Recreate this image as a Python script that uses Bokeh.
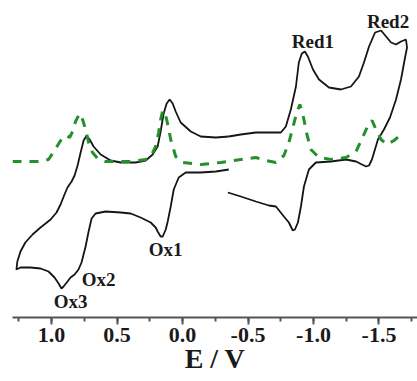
from bokeh.plotting import figure
from bokeh.models import Range1d, Label, SingleIntervalTicker, NumeralTickFormatter
from bokeh.embed import file_html
from bokeh.resources import INLINE

# Cyclic voltammogram, oxidation scan (E in V, current in a.u.)
cv_ox_E = [-0.353, -0.254, -0.139, -0.024, 0.029, 0.067, 0.090, 0.113, 0.128, 0.151, 0.167,
           0.190, 0.205, 0.243, 0.320, 0.396, 0.472, 0.587, 0.664, 0.694, 0.717, 0.740, 0.771,
           0.794, 0.824, 0.855, 0.878, 0.908, 0.924, 0.946, 0.977, 1.023, 1.084, 1.161, 1.237,
           1.268, 1.261, 1.237, 1.200, 1.145, 1.084, 1.007, 0.962, 0.931, 0.901, 0.878, 0.847,
           0.824, 0.801, 0.778, 0.755, 0.732, 0.709, 0.679, 0.625, 0.549, 0.472, 0.358, 0.281,
           0.228, 0.190, 0.167, 0.144, 0.121, 0.098, 0.075, 0.052, 0.014, -0.063, -0.139,
           -0.254, -0.353]
cv_ox_I = [148, 146, 145, 145, 140, 128, 111, 96, 88, 81, 81,
           86, 90, 95, 100, 104, 105, 106, 104, 99, 86, 71, 55,
           48, 43, 40, 36, 31, 29, 34, 40, 46, 49, 50, 50,
           48, 56, 66, 75, 83, 90, 98, 105, 113, 123, 130, 136,
           142, 152, 165, 177, 182, 178, 171, 163, 157, 155, 155, 157,
           163, 171, 186, 204, 214, 218, 214, 206, 195, 186, 181,
           180, 181]

# Cyclic voltammogram, reduction scan
cv_red_E = [-0.353, -0.445, -0.560, -0.674, -0.751, -0.789, -0.827, -0.866, -0.888, -0.911,
            -0.934, -0.957, -0.996, -1.042, -1.118, -1.209, -1.286, -1.347, -1.385, -1.424,
            -1.470, -1.516, -1.554, -1.592, -1.630, -1.668, -1.706, -1.714, -1.699, -1.668,
            -1.630, -1.584, -1.538, -1.492, -1.469, -1.446, -1.424, -1.401, -1.370, -1.325,
            -1.248, -1.133, -1.018, -0.965, -0.927, -0.904, -0.881, -0.858, -0.842, -0.812,
            -0.774, -0.713, -0.659, -0.560, -0.445, -0.346]
cv_red_I = [181, 183, 185, 185, 185, 191, 208, 231, 255, 264,
            266, 261, 248, 238, 230, 228, 231, 241, 255, 271,
            285, 287, 281, 275, 273, 276, 278, 270, 260, 238,
            218, 200, 188, 178, 168, 158, 152, 151, 153, 156,
            158, 156, 155, 148, 131, 111, 95, 88, 87, 95,
            101, 111, 112, 116, 121, 125]

# Differential pulse voltammogram (dashed green)
dpv_E = [1.298, 1.084, 1.023, 0.992, 0.954, 0.916, 0.885, 0.862, 0.839, 0.817, 0.786, 0.763,
         0.740, 0.717, 0.687, 0.648, 0.587, 0.396, 0.281, 0.243, 0.205, 0.182, 0.167, 0.151,
         0.136, 0.121, 0.090, 0.052, -0.002, -0.139, -0.292, -0.445, -0.560, -0.636, -0.713,
         -0.774, -0.812, -0.842, -0.873, -0.896, -0.919, -0.950, -0.980, -1.042, -1.133,
         -1.248, -1.325, -1.378, -1.416, -1.447, -1.477, -1.516, -1.561, -1.615, -1.668]
dpv_I = [156, 156, 158, 164, 172, 180, 182, 180, 186, 196, 204, 198,
         188, 175, 165, 159, 156, 156, 158, 161, 171, 185, 198, 207,
         205, 198, 178, 161, 155, 153, 155, 158, 160, 157, 155,
         162, 175, 190, 205, 213, 203, 183, 168, 160, 158,
         160, 166, 181, 192, 197, 188, 178, 173, 177, 183]

peak_names = ["Red1", "Red2", "Ox1", "Ox2", "Ox3"]
peak_E = [-0.995, -1.569, 0.129, 0.641, 0.855]
peak_I = [276, 296, 68, 38, 16]

tick_step = 0.5
axis_title = "E / V"

SERIF = "Liberation Serif"

p = figure(width=417, height=380, output_backend="svg", toolbar_location=None,
           x_range=Range1d(1.298, -1.794), y_range=Range1d(0, 310),
           y_axis_location=None, min_border_left=12, min_border_right=0,
           min_border_top=7, min_border_bottom=63)
p.outline_line_color = None
p.grid.visible = False

p.line(cv_ox_E, cv_ox_I, line_color="#151515", line_width=1.8)
p.line(cv_red_E, cv_red_I, line_color="#151515", line_width=1.8)
p.line(dpv_E, dpv_I, line_color="#23902a", line_width=3, line_dash="9 8")

for name, e, i in zip(peak_names, peak_E, peak_I):
    p.add_layout(Label(x=e, y=i, text=name, text_font=SERIF, text_font_style="bold",
                       text_font_size="19px", text_align="center", text_baseline="middle",
                       text_color="#1a1a1a"))

ax = p.xaxis[0]
ax.ticker = SingleIntervalTicker(interval=tick_step, num_minor_ticks=2)
ax.formatter = NumeralTickFormatter(format="0.0")
ax.axis_line_color = "#555555"
ax.axis_line_width = 2
ax.major_tick_line_color = "#555555"
ax.major_tick_line_width = 2
ax.major_tick_in = 0
ax.major_tick_out = 7
ax.minor_tick_line_color = "#555555"
ax.minor_tick_line_width = 2
ax.minor_tick_in = 0
ax.minor_tick_out = 4
ax.major_label_text_font = SERIF
ax.major_label_text_font_style = "bold"
ax.major_label_text_font_size = "22px"
ax.major_label_text_color = "#1a1a1a"
ax.major_label_standoff = 3
ax.axis_label = axis_title
ax.axis_label_text_font = SERIF
ax.axis_label_text_font_style = "bold"
ax.axis_label_text_font_size = "28px"
ax.axis_label_text_color = "#1a1a1a"
ax.axis_label_standoff = -2

open("out.html", "w").write(file_html(p, INLINE))
